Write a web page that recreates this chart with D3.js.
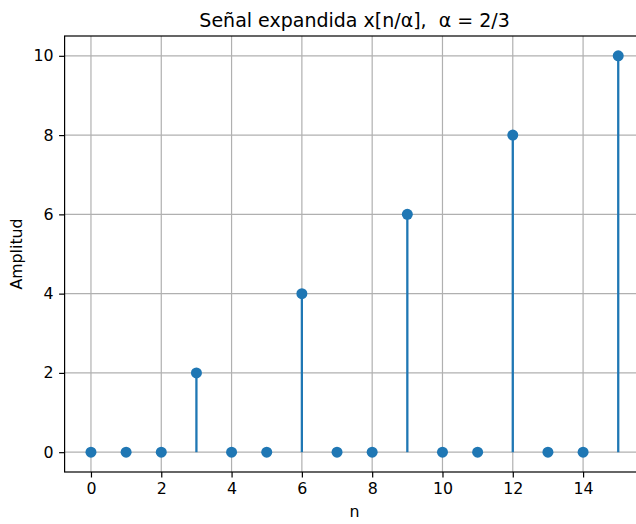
<!DOCTYPE html>
<html>
<head>
<meta charset="utf-8">
<script src="https://cdn.jsdelivr.net/npm/d3@7"></script>
<style>
  body { margin: 0; background: #fff; }
  text { font-family: "DejaVu Sans", sans-serif; }
</style>
</head>
<body>
<div id="chart"></div>
<script>
// Chart data: expanded signal samples
const N_VALUES = [0, 1, 2, 3, 4, 5, 6, 7, 8, 9, 10, 11, 12, 13, 14, 15];
const AMPLITUDES = [0, 0, 0, 2, 0, 0, 4, 0, 0, 6, 0, 0, 8, 0, 0, 10];
const X_TICKS = [0, 2, 4, 6, 8, 10, 12, 14];
const Y_TICKS = [0, 2, 4, 6, 8, 10];
const TITLE = "Señal expandida x[n/α],  α = 2/3";

// Frame dimensions
const FRAME_WIDTH = 636;
const FRAME_HEIGHT = 524;
const MARGINS = {left: 64.6, right: -8.6, top: 36, bottom: 52};
const VIS_WIDTH = FRAME_WIDTH - MARGINS.left - MARGINS.right;
const VIS_HEIGHT = FRAME_HEIGHT - MARGINS.top - MARGINS.bottom;

const COLOR = "#1f77b4";
const LABEL_SIZE = "15.8px";

const FRAME = d3.select("#chart")
  .append("svg")
    .attr("width", FRAME_WIDTH)
    .attr("height", FRAME_HEIGHT);

// Scales with matplotlib-like 5% margins
const X_SCALE = d3.scaleLinear()
  .domain([-0.75, 15.75])
  .range([MARGINS.left, MARGINS.left + VIS_WIDTH]);

const Y_SCALE = d3.scaleLinear()
  .domain([-0.5, 10.5])
  .range([MARGINS.top + VIS_HEIGHT, MARGINS.top]);

// Grid lines
FRAME.append("g")
  .selectAll("line")
  .data(X_TICKS)
  .enter()
  .append("line")
    .attr("x1", (d) => X_SCALE(d))
    .attr("x2", (d) => X_SCALE(d))
    .attr("y1", MARGINS.top)
    .attr("y2", MARGINS.top + VIS_HEIGHT)
    .attr("stroke", "#b0b0b0")
    .attr("stroke-width", 1.2);

FRAME.append("g")
  .selectAll("line")
  .data(Y_TICKS)
  .enter()
  .append("line")
    .attr("x1", MARGINS.left)
    .attr("x2", MARGINS.left + VIS_WIDTH)
    .attr("y1", (d) => Y_SCALE(d))
    .attr("y2", (d) => Y_SCALE(d))
    .attr("stroke", "#b0b0b0")
    .attr("stroke-width", 1.2);

// Stems
FRAME.append("g")
  .selectAll("line")
  .data(N_VALUES)
  .enter()
  .append("line")
    .attr("x1", (d) => X_SCALE(d))
    .attr("x2", (d) => X_SCALE(d))
    .attr("y1", Y_SCALE(0))
    .attr("y2", (d, i) => Y_SCALE(AMPLITUDES[i]))
    .attr("stroke", COLOR)
    .attr("stroke-width", 2.3);

// Markers
FRAME.append("g")
  .selectAll("circle")
  .data(N_VALUES)
  .enter()
  .append("circle")
    .attr("cx", (d) => X_SCALE(d))
    .attr("cy", (d, i) => Y_SCALE(AMPLITUDES[i]))
    .attr("r", 5.5)
    .attr("fill", COLOR);

// Axes
const xAxis = FRAME.append("g")
  .attr("transform", "translate(0," + (MARGINS.top + VIS_HEIGHT) + ")")
  .call(d3.axisBottom(X_SCALE).tickValues(X_TICKS).tickSize(5.5).tickPadding(5).tickSizeOuter(0));

const yAxis = FRAME.append("g")
  .attr("transform", "translate(" + MARGINS.left + ",0)")
  .call(d3.axisLeft(Y_SCALE).tickValues(Y_TICKS).tickSize(5.5).tickPadding(5.5).tickSizeOuter(0));

[xAxis, yAxis].forEach((ax) => {
  ax.selectAll("text")
    .attr("font-family", "DejaVu Sans")
    .attr("font-size", LABEL_SIZE)
    .attr("fill", "#000");
  ax.selectAll("line").attr("stroke", "#000").attr("stroke-width", 1.2);
  ax.select(".domain").remove();
});

// Spines
FRAME.append("rect")
  .attr("x", MARGINS.left)
  .attr("y", MARGINS.top)
  .attr("width", VIS_WIDTH)
  .attr("height", VIS_HEIGHT)
  .attr("fill", "none")
  .attr("stroke", "#000")
  .attr("stroke-width", 1.2);

// Title
FRAME.append("text")
  .attr("x", MARGINS.left + VIS_WIDTH / 2)
  .attr("y", 27)
  .attr("text-anchor", "middle")
  .style("font-size", "19px")
  .style("white-space", "pre")
  .attr("xml:space", "preserve")
  .text(TITLE);

// Axis labels
FRAME.append("text")
  .attr("x", MARGINS.left + VIS_WIDTH / 2)
  .attr("y", 517)
  .attr("text-anchor", "middle")
  .style("font-size", LABEL_SIZE)
  .text("n");

FRAME.append("text")
  .attr("transform", "translate(22," + (MARGINS.top + VIS_HEIGHT / 2) + ") rotate(-90)")
  .attr("text-anchor", "middle")
  .style("font-size", LABEL_SIZE)
  .text("Amplitud");
</script>
</body>
</html>
